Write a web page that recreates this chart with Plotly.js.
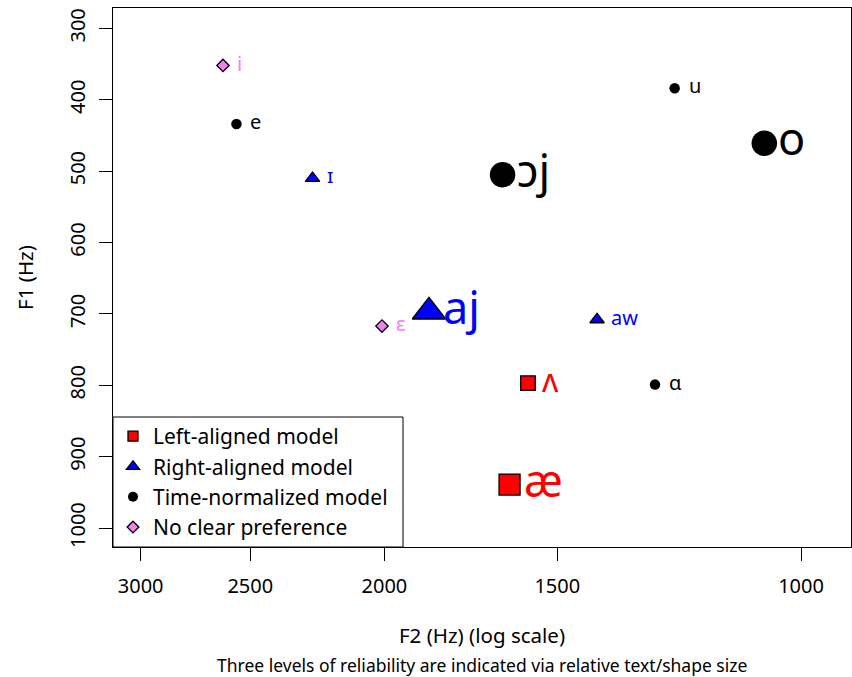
<!DOCTYPE html>
<html>
<head>
<meta charset="utf-8">
<script src="https://cdn.plot.ly/plotly-3.0.1.min.js"></script>
<style>html,body{margin:0;padding:0;background:#fff;}#chart{width:852px;height:677px;}</style>
</head>
<body>
<div id="chart"></div>
<script>
// ---- data ----
const vowels      = ['i', 'e', 'ɪ', 'ɛ', 'æ', 'ʌ', 'aj', 'aw', 'ɔj', 'ɑ', 'u', 'o'];
const f2Hz        = [2616, 2558, 2254, 2008, 1624, 1575, 1857, 1404, 1643, 1275, 1234, 1063];
const f1Hz        = [352, 434, 510, 717, 939, 797, 697, 708, 505, 799, 384, 461];
const bestModel   = ['none', 'time', 'right', 'none', 'left', 'left', 'right', 'right', 'time', 'time', 'time', 'time'];
const reliability = [1, 1, 1, 1, 3, 2, 3, 1, 3, 1, 1, 3];
const modelKeys   = ['left', 'right', 'time', 'none'];
const modelNames  = ['Left-aligned model', 'Right-aligned model', 'Time-normalized model', 'No clear preference'];
const xTickVals   = [3000, 2500, 2000, 1500, 1000];
const yTickVals   = [300, 400, 500, 600, 700, 800, 900, 1000];

// ---- styles ----
const FONT = 'Noto Sans, DejaVu Sans, sans-serif';
const style = {
  left:  {symbol: 'square',      color: '#FF0000', line: 1.3, sizes: [10, 14.5, 21]},
  right: {symbol: 'triangle-up', color: '#0000FF', line: 1.3, sizes: [12.5, 20, 29]},
  time:  {symbol: 'circle',      color: '#000000', line: 0,   sizes: [10.5, 17, 25.5]},
  none:  {symbol: 'diamond',     color: '#EE82EE', line: 1.3, sizes: [9.5, 15, 22]}
};
const legendSize = {left: 10, right: 11.5, time: 10, none: 9};
const textSizes = [20, 32, 45];

const traces = [];
modelKeys.forEach((k) => {
  const idx = vowels.map((v, i) => i).filter(i => bestModel[i] === k);
  const st = style[k];
  traces.push({
    type: 'scatter', mode: 'markers',
    x: idx.map(i => f2Hz[i]), y: idx.map(i => f1Hz[i]),
    marker: {symbol: st.symbol, color: st.color, opacity: 1,
             size: idx.map(i => st.sizes[reliability[i] - 1]),
             line: {color: '#000', width: st.line}},
    showlegend: false, hoverinfo: 'skip', cliponaxis: false
  });
});
// legend entries
modelKeys.forEach((k, mi) => {
  const st = style[k];
  traces.push({
    type: 'scatter', mode: 'markers', x: [null], y: [null], name: modelNames[mi],
    marker: {symbol: st.symbol, color: st.color, size: legendSize[k], opacity: 1,
             line: {color: '#000', width: st.line}},
    showlegend: true
  });
});

const annotations = vowels.map((v, i) => {
  const fs = textSizes[reliability[i] - 1];
  return {
    x: Math.log10(f2Hz[i]), y: f1Hz[i], xref: 'x', yref: 'y',
    text: v, showarrow: false, xanchor: 'left', yanchor: 'middle', xshift: 12, yshift: fs * 0.12,
    font: {family: FONT, size: fs, color: style[bestModel[i]].color}
  };
});
annotations.push({
  xref: 'paper', yref: 'paper', x: 0.5, y: (547 - 665) / 539, yanchor: 'middle', xanchor: 'center',
  text: 'Three levels of reliability are indicated via relative text/shape size',
  showarrow: false, font: {family: FONT, size: 17.5, color: '#000'}
});

const layout = {
  width: 852, height: 677,
  margin: {l: 113, r: 1, t: 8, b: 130},
  paper_bgcolor: '#fff', plot_bgcolor: '#fff',
  font: {family: FONT, color: '#000', size: 20},
  showlegend: true,
  legend: {x: 0, y: (547 - 482) / 539, xanchor: 'left', yanchor: 'middle',
           bgcolor: 'rgba(0,0,0,0)', borderwidth: 0, font: {family: FONT, size: 21, color: '#000'},
           itemsizing: 'trace', traceorder: 'normal'},
  xaxis: {type: 'log', range: [3.4971, 2.9639], tickvals: xTickVals, ticktext: xTickVals.map(String),
          ticks: 'outside', ticklen: 13, tickwidth: 1, tickcolor: '#000',
          showline: true, mirror: true, linecolor: '#000', linewidth: 1,
          showgrid: false, zeroline: false, ticklabelstandoff: 8,
          tickfont: {family: FONT, size: 20},
          title: {text: 'F2 (Hz) (log scale)', font: {family: FONT, size: 20.5}, standoff: 30}},
  yaxis: {range: [1026.5, 271.5], tickvals: yTickVals, ticktext: yTickVals.map(String),
          ticks: 'outside', ticklen: 13, tickwidth: 1, tickcolor: '#000', tickangle: -90,
          showline: true, mirror: true, linecolor: '#000', linewidth: 1,
          showgrid: false, zeroline: false, ticklabelstandoff: 6,
          tickfont: {family: FONT, size: 20},
          title: {text: 'F1 (Hz)', font: {family: FONT, size: 20.5}, standoff: 24}},
  shapes: [{type: 'rect', xref: 'paper', yref: 'paper', layer: 'above',
            x0: 0, x1: (403 - 113) / 738, y0: 0, y1: (547 - 417) / 539,
            line: {color: '#000', width: 1}, fillcolor: 'rgba(0,0,0,0)'}],
  annotations: annotations
};

Plotly.newPlot('chart', traces, layout, {displayModeBar: false, staticPlot: true});
</script>
</body>
</html>
